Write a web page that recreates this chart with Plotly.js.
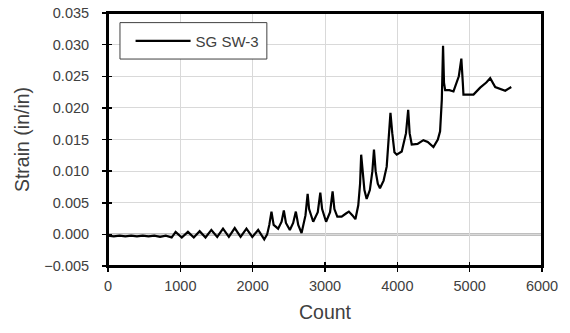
<!DOCTYPE html>
<html>
<head>
<meta charset="utf-8">
<script src="https://cdn.plot.ly/plotly-3.0.1.min.js"></script>
<style>html,body{margin:0;padding:0;background:#fff;}#chart{width:570px;height:333px;}</style>
</head>
<body>
<div id="chart"></div>
<script>
const seriesName = "SG SW-3";
const count = [0,80,160,240,320,400,480,560,640,720,800,860,880,935,1020,1105,1186,1267,1348,1429,1510,1590,1671,1752,1833,1914,1995,2076,2160,
  2200,2230,2260,2290,2352,2400,2431,2460,2514,2560,2597,2630,2676,2730,2760,2780,2837,2900,2935,2960,3015,3070,3105,3130,3170,3230,3290,3330,3380,3420,
  3460,3485,3500,3520,3545,3576,3620,3655,3677,3700,3730,3760,3810,3853,3880,3905,3930,3960,3992,4061,4120,4150,4170,4199,4280,4360,4420,4499,4560,4591,4615,
  4632,4645,4661,4720,4776,4850,4885,4905,4914,5053,5145,5230,5284,5353,5420,5492,5575];
const strain = [-0.0002,-0.0003,-0.0002,-0.0003,-0.0002,-0.0003,-0.0002,-0.0003,-0.0002,-0.0004,-0.0002,-0.0004,-0.0005,0.0004,-0.0005,0.0004,-0.0005,0.0005,-0.0005,0.0007,-0.0004,0.0009,-0.0004,0.0010,-0.0004,0.0009,-0.0004,0.0007,-0.0008,
  0.0000,0.0015,0.0036,0.0015,0.0009,0.0020,0.0038,0.0018,0.0007,0.0018,0.0036,0.0015,0.0002,0.0030,0.0064,0.0040,0.0020,0.0035,0.0066,0.0040,0.0020,0.0035,0.0068,0.0040,0.0028,0.0028,0.0033,0.0036,0.0030,0.0024,
  0.0046,0.0080,0.0126,0.0100,0.0070,0.0056,0.0070,0.0100,0.0134,0.0100,0.0080,0.0073,0.0085,0.0107,0.0150,0.0192,0.0160,0.0130,0.0126,0.0131,0.0160,0.0197,0.0160,0.0142,0.0143,0.0149,0.0146,0.0138,0.0150,0.0163,0.0213,
  0.0298,0.0240,0.0228,0.0228,0.0226,0.0250,0.0278,0.0240,0.0221,0.0221,0.0232,0.0240,0.0247,0.0233,0.0230,0.0227,0.0233];
const xTicks = [0,1000,2000,3000,4000,5000,6000];
const yTicks = [-0.005,0,0.005,0.010,0.015,0.020,0.025,0.030,0.035];

const fam = "Liberation Sans, Arial, sans-serif";
const txt = "#404040";

const traces = [
  {x: count, y: strain, type: "scatter", mode: "lines", name: seriesName,
   line: {color: "#000000", width: 2.2}},
  {x: count, y: strain, xaxis: "x2", yaxis: "y2", type: "scatter", mode: "lines",
   line: {color: "rgba(0,0,0,0)", width: 0}, showlegend: false, hoverinfo: "skip"}
];

const axisBase = {showline: true, linecolor: "#000", linewidth: 2, mirror: true,
  ticks: "outside", ticklen: 4, tickwidth: 1.5, tickcolor: "#000",
  showgrid: true, gridcolor: "#d9d9d9", gridwidth: 1, zeroline: false,
  tickfont: {family: fam, size: 14.5, color: txt}};

const layout = {
  width: 570, height: 333,
  margin: {l: 108, r: 28, t: 13, b: 67},
  paper_bgcolor: "#fff", plot_bgcolor: "#fff",
  font: {family: fam, color: txt},
  showlegend: true,
  xaxis: Object.assign({}, axisBase, {range: [0, 6000], tickvals: xTicks, tickformat: "d", ticklabelstandoff: 2,
    title: {text: "Count", font: {family: fam, size: 19.5, color: txt}, standoff: 12}}),
  yaxis: Object.assign({}, axisBase, {range: [-0.005, 0.035], tickvals: yTicks, tickformat: ".3f", ticklabelstandoff: 10,
    title: {text: "Strain (in/in)", font: {family: fam, size: 19.5, color: txt}, standoff: 10}}),
  xaxis2: {overlaying: "x", range: [0, 6000], tickvals: xTicks, ticks: "inside", ticklen: 4, tickwidth: 1.5, tickcolor: "#000",
    showticklabels: false, showgrid: false, zeroline: false, showline: false},
  yaxis2: {overlaying: "y", range: [-0.005, 0.035], tickvals: yTicks, ticks: "inside", ticklen: 4, tickwidth: 1.5, tickcolor: "#000",
    showticklabels: false, showgrid: false, zeroline: false, showline: false},
  shapes: [
    {type: "line", xref: "paper", yref: "y", x0: 0, x1: 1, y0: 0, y1: 0, line: {color: "#808080", width: 2}, layer: "below"},
    {type: "rect", xref: "paper", yref: "paper", x0: 0.0276, x1: 0.366, y0: 0.818, y1: 0.962,
     line: {color: "#404040", width: 1}, fillcolor: "#fff", layer: "above"},
    {type: "rect", xref: "paper", yref: "paper", x0: 0, x1: 1, y0: 0, y1: 1,
     line: {color: "#000", width: 2}, fillcolor: "rgba(0,0,0,0)", layer: "above"}
  ],
  legend: {x: 0.052, y: 0.889, xanchor: "left", yanchor: "middle", bgcolor: "rgba(0,0,0,0)", borderwidth: 0,
    itemwidth: 55, font: {family: fam, size: 15, color: txt}}
};

Plotly.newPlot("chart", traces, layout, {staticPlot: true, displayModeBar: false});
</script>
</body>
</html>
